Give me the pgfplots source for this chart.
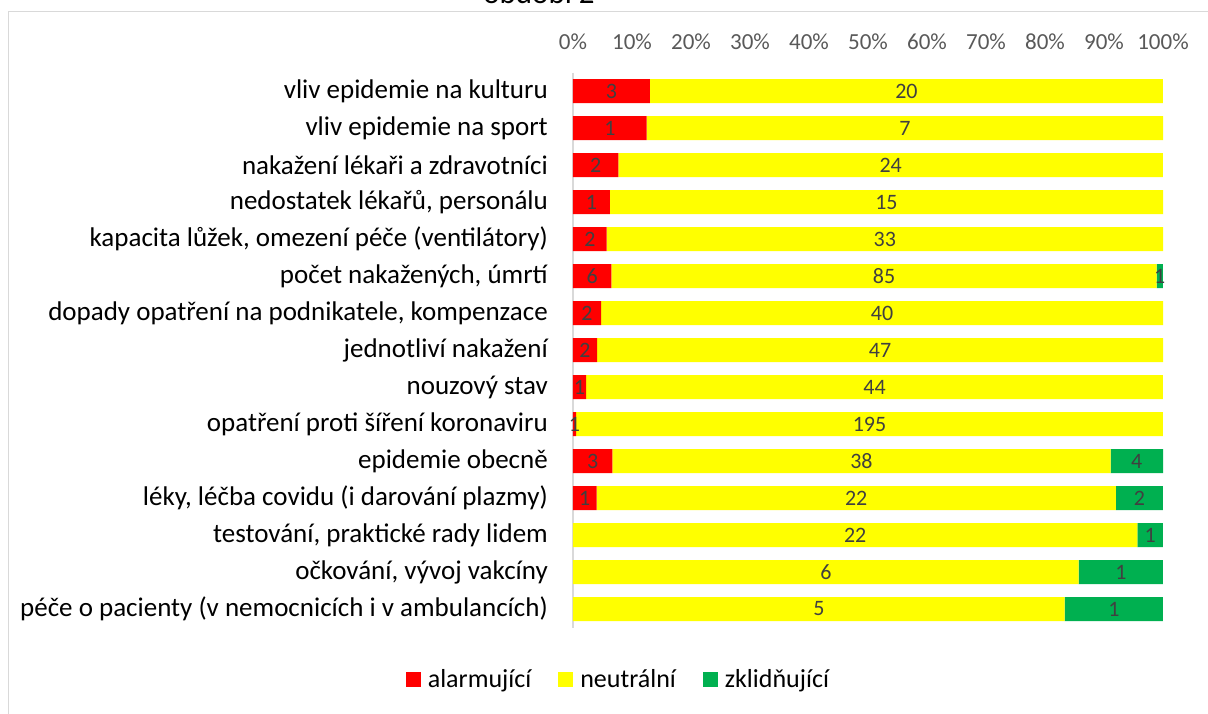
\documentclass[border=0pt]{standalone}
\usepackage{fontspec}
\setmainfont{Carlito}
\usepackage{pgfplots}
\pgfplotsset{compat=1.18}
\usepackage{pgfplotstable}
\definecolor{cred}{HTML}{FF0000}
\definecolor{cyel}{HTML}{FFFF00}
\definecolor{cgreen}{HTML}{00B050}
\definecolor{lab}{HTML}{404040}
\definecolor{tickc}{HTML}{595959}
\definecolor{framec}{HTML}{D9D9D9}

\pgfplotstableread{
a n z t
3 20 0 23
1 7 0 8
2 24 0 26
1 15 0 16
2 33 0 35
6 85 1 92
2 40 0 42
2 47 0 49
1 44 0 45
1 195 0 196
3 38 4 45
1 22 2 25
0 22 1 23
0 6 1 7
0 5 1 6
}\data

\begin{document}
\begin{tikzpicture}
\useasboundingbox (0pt,0pt) rectangle (1208pt,713pt);
\draw[framec, line width=1.3pt] (8.5pt,-20pt) -- (8.5pt,701.5pt) -- (1230pt,701.5pt);
\node[anchor=base, font=\fontsize{31}{37}\selectfont, inner sep=0pt] at (539pt,709pt) {období 2};
\begin{axis}[
  at={(573pt,85.5pt)}, anchor=south west,
  scale only axis, width=590pt, height=555pt,
  xbar stacked, bar width=24pt,
  xmin=0, xmax=100, ymin=-0.5, ymax=14.5, y dir=reverse,
  axis y line*=left, axis x line*=top,
  x axis line style={draw=none},
  y axis line style={draw=framec, line width=1.3pt},
  tick style={draw=none}, major tick length=0pt,
  xtick={0,10,...,100},
  xticklabels={0\%,10\%,20\%,30\%,40\%,50\%,60\%,70\%,80\%,90\%,100\%},
  xticklabel style={font=\fontsize{23}{28}\selectfont, text=tickc, anchor=base, yshift=23pt},
  ytick={0,...,14},
  yticklabels={
    {vliv epidemie na kulturu},
    {vliv epidemie na sport},
    {nakažení lékaři a zdravotníci},
    {nedostatek lékařů, personálu},
    {kapacita lůžek, omezení péče (ventilátory)},
    {počet nakažených, úmrtí},
    {dopady opatření na podnikatele, kompenzace},
    {jednotliví nakažení},
    {nouzový stav},
    {opatření proti šíření koronaviru},
    {epidemie obecně},
    {léky, léčba covidu (i darování plazmy)},
    {testování, praktické rady lidem},
    {očkování, vývoj vakcíny},
    {péče o pacienty (v nemocnicích i v ambulancích)}},
  yticklabel style={font=\fontsize{27}{32}\selectfont, text=black, anchor=east, inner sep=0pt, xshift=-25pt},
  clip=false,
  point meta=explicit symbolic,
  nodes near coords={\ifnum\pgfplotspointmeta>0 \pgfplotspointmeta\fi},
  every node near coord/.append style={font=\fontsize{22}{26}\selectfont, text=lab},
  legend image code/.code={\fill[#1] (0pt,-7.5pt) rectangle (15pt,7.5pt);},
  legend columns=3,
  legend style={at={(0.077,-0.093)}, anchor=center, draw=none, fill=none,
    font=\fontsize{26}{31}\selectfont,
    /tikz/every odd column/.append style={column sep=5pt},
    /tikz/every even column/.append style={column sep=25pt}},
]
\addplot[fill=cred, draw=none] table[x expr=\thisrow{a}/\thisrow{t}*100, y expr=\coordindex, meta=a]{\data};
\addlegendentry{alarmující}
\addplot[fill=cyel, draw=none] table[x expr=\thisrow{n}/\thisrow{t}*100, y expr=\coordindex, meta=n]{\data};
\addlegendentry{neutrální}
\addplot[fill=cgreen, draw=none] table[x expr=\thisrow{z}/\thisrow{t}*100, y expr=\coordindex, meta=z]{\data};
\addlegendentry{zklidňující}
\end{axis}
\end{tikzpicture}
\end{document}
